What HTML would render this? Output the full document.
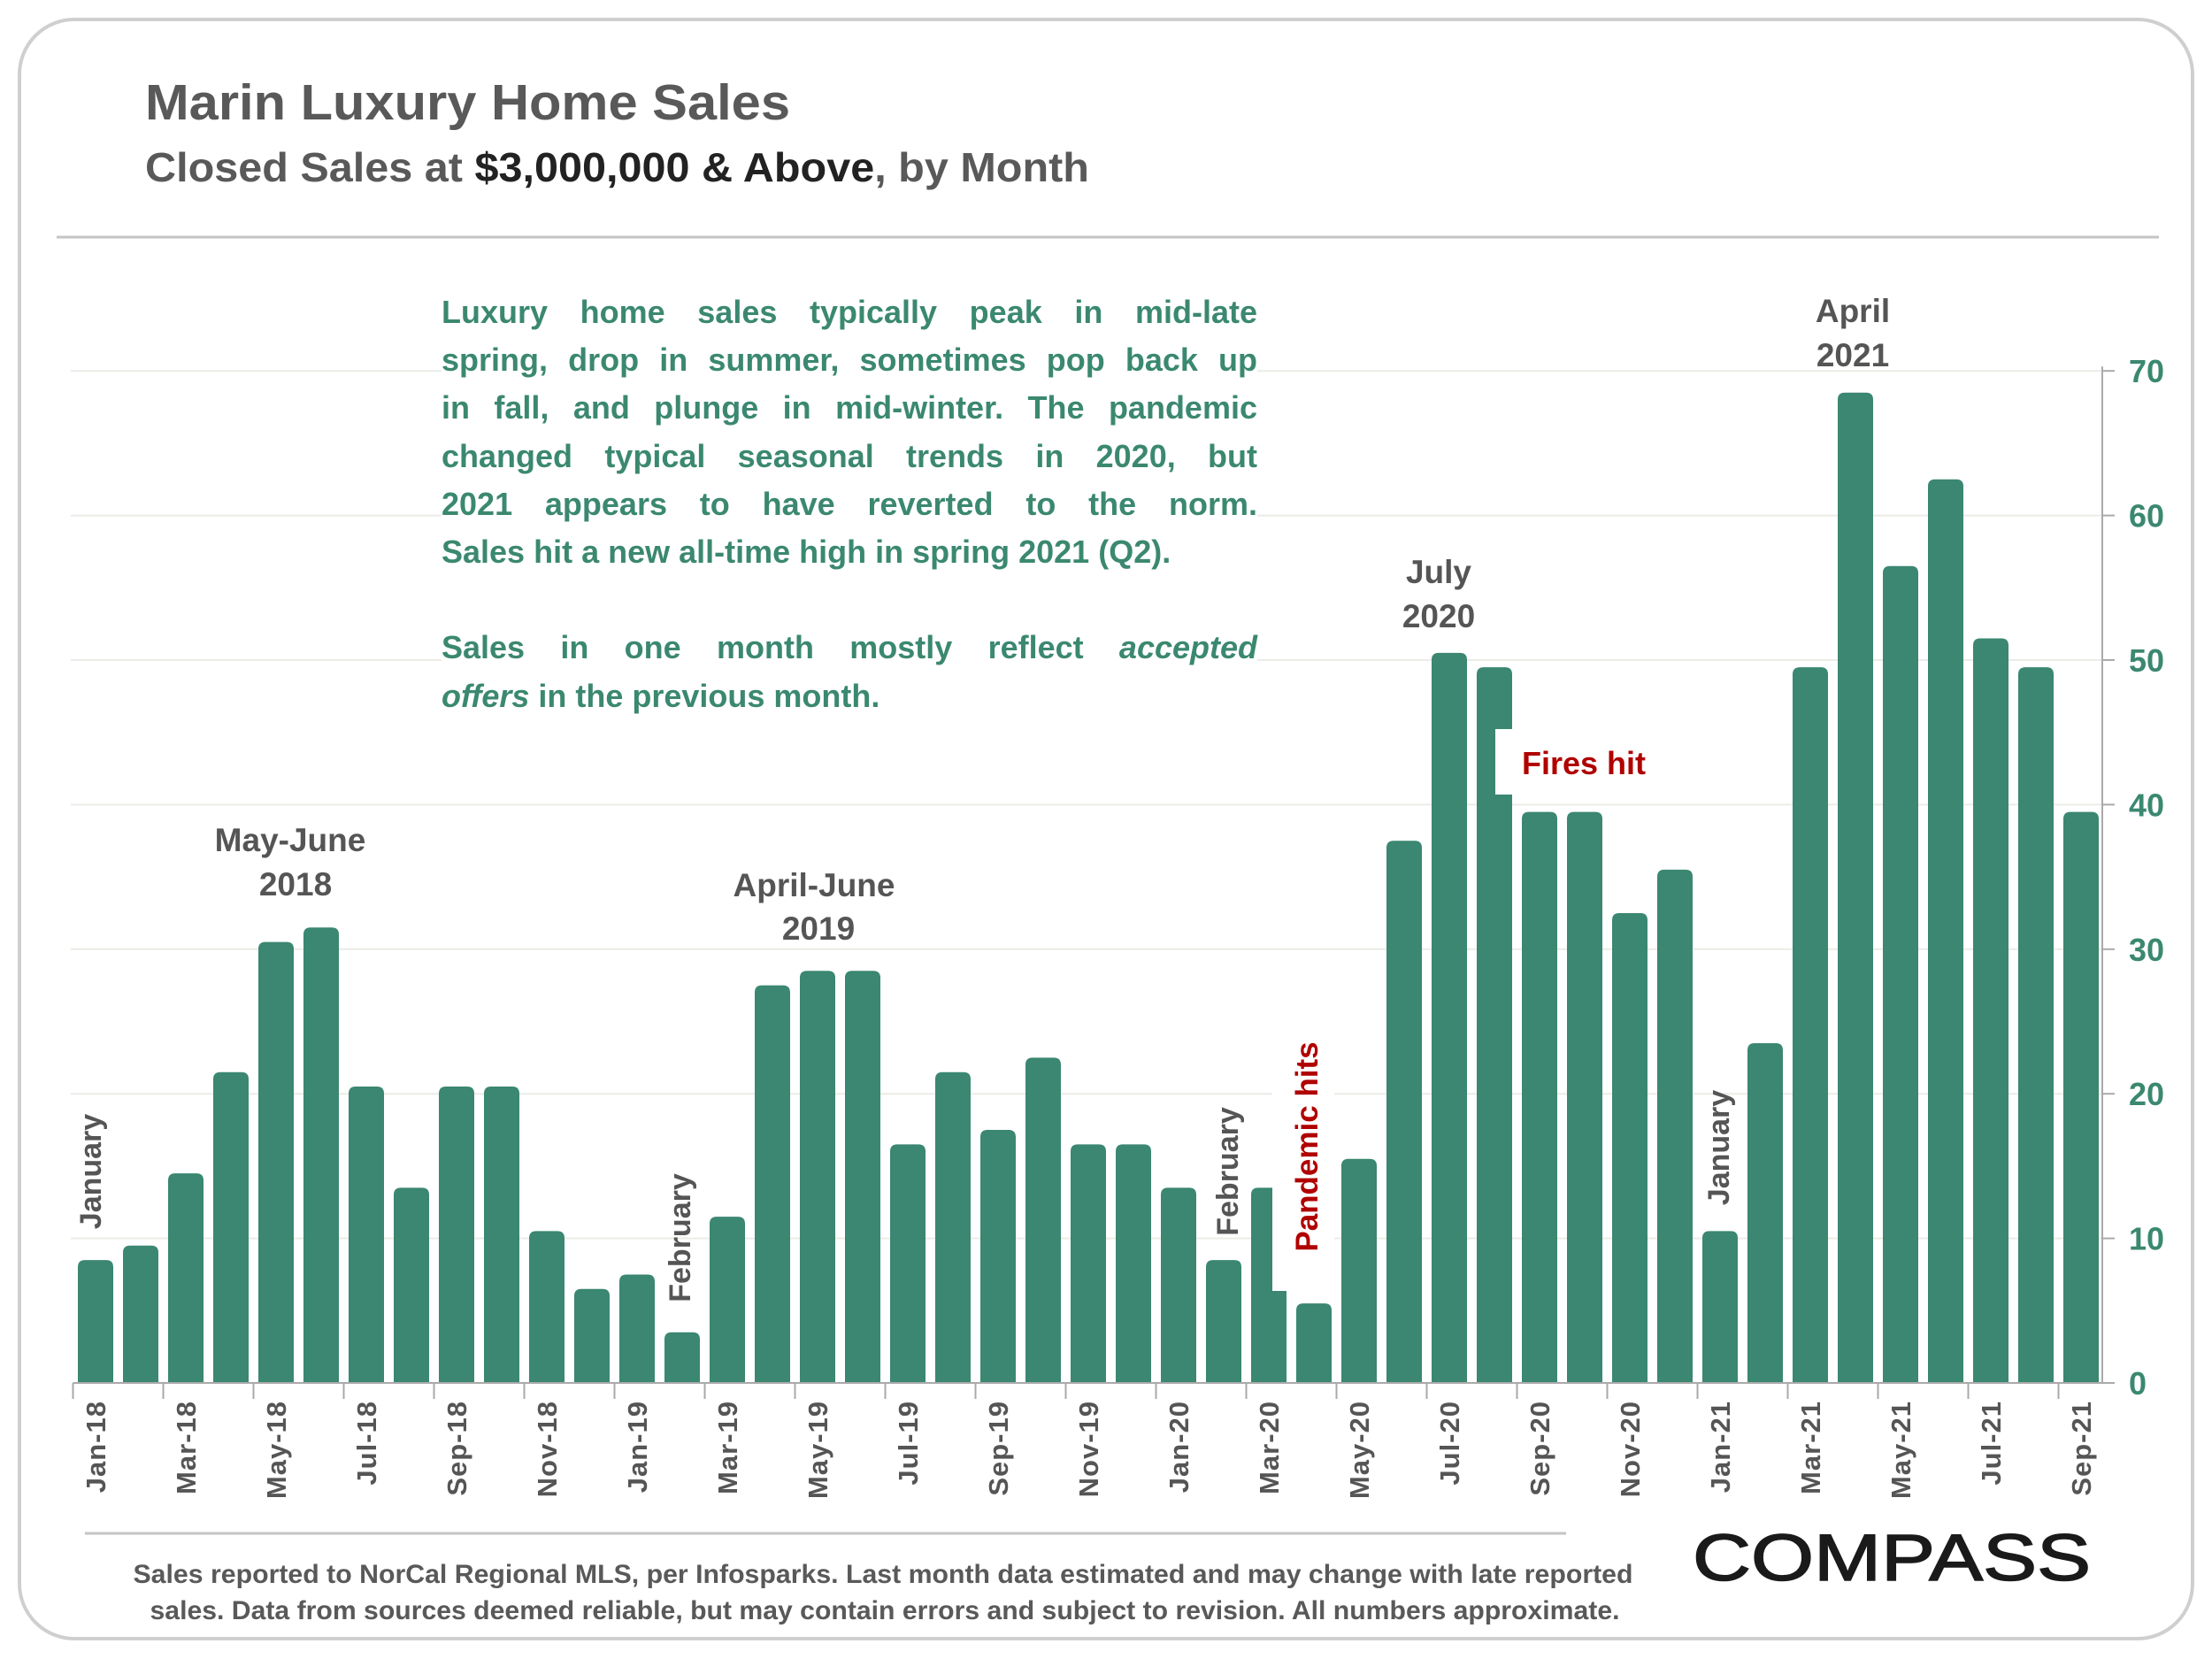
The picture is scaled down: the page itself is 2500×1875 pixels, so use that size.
<!DOCTYPE html>
<html><head><meta charset="utf-8"><style>
html,body{margin:0;padding:0;background:#fff;}
#wrap{position:relative;width:2500px;height:1875px;overflow:hidden;font-family:"Liberation Sans",sans-serif;}
svg{position:absolute;left:0;top:0;}
#note{position:absolute;left:499px;top:326px;width:922px;color:#3b8870;font-weight:bold;font-size:36px;line-height:54.2px;background:#fff;padding:0;}
#note div{text-align:justify;text-align-last:justify;white-space:nowrap;}
#note div.l{text-align-last:left;}
</style></head><body>
<div id="wrap">
<svg id="chart" width="2500" height="1875" viewBox="0 0 2500 1875">
  <rect x="22" y="22" width="2456" height="1830" rx="62" fill="#fff" stroke="#cfcfcf" stroke-width="4"/>
  <text x="164" y="135" font-size="57" font-weight="bold" fill="#595959" textLength="729" lengthAdjust="spacingAndGlyphs">Marin Luxury Home Sales</text>
  <text x="164" y="205" font-size="46" font-weight="bold" fill="#595959" textLength="1067" lengthAdjust="spacingAndGlyphs">Closed Sales at <tspan fill="#222">$3,000,000 &amp; Above</tspan>, by Month</text>
  <line x1="64" y1="268" x2="2440" y2="268" stroke="#c4c4c4" stroke-width="3"/>
  <g id="grid"></g>
  <g id="bars"></g>
  <g id="axes"></g>
  <g id="annos">
    <text x="328" y="962" font-size="37" font-weight="bold" fill="#555" text-anchor="middle">May-June</text>
    <text x="334" y="1012" font-size="37" font-weight="bold" fill="#555" text-anchor="middle">2018</text>
    <text x="920" y="1013" font-size="37" font-weight="bold" fill="#555" text-anchor="middle">April-June</text>
    <text x="925" y="1062" font-size="37" font-weight="bold" fill="#555" text-anchor="middle">2019</text>
    <text x="1626" y="659" font-size="37" font-weight="bold" fill="#555" text-anchor="middle">July</text>
    <text x="1626" y="709" font-size="37" font-weight="bold" fill="#555" text-anchor="middle">2020</text>
    <text x="2094" y="364" font-size="37" font-weight="bold" fill="#555" text-anchor="middle">April</text>
    <text x="2094" y="414" font-size="37" font-weight="bold" fill="#555" text-anchor="middle">2021</text>
    <rect x="1690" y="824" width="175" height="74" fill="#fff"/>
    <text x="1720" y="875" font-size="36" font-weight="bold" fill="#b00000">Fires hit</text>
    <rect x="1438" y="1150" width="70" height="309" fill="#fff"/>
    <text transform="translate(114,1324) rotate(-90)" font-size="34" font-weight="bold" fill="#555" text-anchor="middle">January</text>
    <text transform="translate(780,1399) rotate(-90)" font-size="34" font-weight="bold" fill="#555" text-anchor="middle">February</text>
    <text transform="translate(1399,1324) rotate(-90)" font-size="34" font-weight="bold" fill="#555" text-anchor="middle">February</text>
    <text transform="translate(1489,1296) rotate(-90)" font-size="35" font-weight="bold" fill="#b00000" text-anchor="middle">Pandemic hits</text>
    <text transform="translate(1954,1297) rotate(-90)" font-size="34" font-weight="bold" fill="#555" text-anchor="middle">January</text>
  </g>
  <line x1="96" y1="1733" x2="1770" y2="1733" stroke="#c4c4c4" stroke-width="3"/>
  <text x="998" y="1789" font-size="30" font-weight="bold" fill="#595959" text-anchor="middle" textLength="1695" lengthAdjust="spacingAndGlyphs">Sales reported to NorCal Regional MLS, per Infosparks. Last month data estimated and may change with late reported</text>
  <text x="1000" y="1830" font-size="30" font-weight="bold" fill="#595959" text-anchor="middle" textLength="1661" lengthAdjust="spacingAndGlyphs">sales. Data from sources deemed reliable, but may contain errors and subject to revision. All numbers approximate.</text>
  <text x="1913" y="1786" font-size="74" fill="#1a1a1a" stroke="#1a1a1a" stroke-width="1.5" textLength="450" lengthAdjust="spacingAndGlyphs">COMPASS</text>
</svg>
<div id="note">
  <div>Luxury home sales typically peak in mid-late</div>
  <div>spring, drop in summer, sometimes pop back up</div>
  <div>in fall, and plunge in mid-winter. The pandemic</div>
  <div>changed typical seasonal trends in 2020, but</div>
  <div>2021 appears to have reverted to the norm.</div>
  <div class="l">Sales hit a new all-time high in spring 2021 (Q2).</div>
  <div class="l">&nbsp;</div>
  <div>Sales in one month mostly reflect <i>accepted</i></div>
  <div class="l"><i>offers</i> in the previous month.</div>
</div>
</div>
<script>
const months = ["Jan-18","Feb-18","Mar-18","Apr-18","May-18","Jun-18","Jul-18","Aug-18","Sep-18","Oct-18","Nov-18","Dec-18",
"Jan-19","Feb-19","Mar-19","Apr-19","May-19","Jun-19","Jul-19","Aug-19","Sep-19","Oct-19","Nov-19","Dec-19",
"Jan-20","Feb-20","Mar-20","Apr-20","May-20","Jun-20","Jul-20","Aug-20","Sep-20","Oct-20","Nov-20","Dec-20",
"Jan-21","Feb-21","Mar-21","Apr-21","May-21","Jun-21","Jul-21","Aug-21","Sep-21"];
const sales = [8,9,14,21,30,31,20,13,20,20,10,6,
7,3,11,27,28,28,16,21,17,22,16,16,
13,8,13,5,15,37,50,49,39,39,32,35,
10,23,49,68,56,62,51,49,39];
const yTicks = [0,10,20,30,40,50,60,70];

const NS = "http://www.w3.org/2000/svg";
const X0 = 108, STEP = 51, BW = 40, Y0 = 1563, PER = 16.34, AXR = 2376;
function xScale(i){ return X0 + i*STEP; }
function yScale(v){ return Y0 - v*PER; }
function mk(tag, attrs, parent){
  const e = document.createElementNS(NS, tag);
  for (const k in attrs) e.setAttribute(k, attrs[k]);
  parent.appendChild(e); return e;
}
const grid = document.getElementById('grid');
const bars = document.getElementById('bars');
const axes = document.getElementById('axes');

yTicks.forEach(t => {
  const y = yScale(t);
  if (t > 0) {
    const g = mk('line', {x1:80, y1:y, x2:AXR, y2:y, stroke:'#ecece6', 'stroke-width':2}, grid);
    
    
  }
  const tk = mk('line', {x1:AXR, y1:y, x2:AXR+14, y2:y, stroke:'#aaa', 'stroke-width':2}, axes);
  
  
  const lb = mk('text', {x: AXR+30, y: y+13, 'font-size':36, 'font-weight':'bold', fill:'#3b8870'}, axes);
  lb.textContent = t;
  
  
});
const yax = mk('line', {x1:AXR, y1:yScale(70)-5, x2:AXR, y2:Y0, stroke:'#aaa', 'stroke-width':2}, axes);



sales.forEach((v, i) => {
  const cx = xScale(i), x = cx - BW/2, top = yScale(v + 0.5), r = 8;
  const d = `M${x},${Y0} L${x},${top+r} Q${x},${top} ${x+r},${top} L${x+BW-r},${top} Q${x+BW},${top} ${x+BW},${top+r} L${x+BW},${Y0} Z`;
  const b = mk('path', {d: d, fill:'#3b8771'}, bars);
  
  
});

const base = mk('line', {x1:xScale(0)-STEP/2, y1:Y0, x2:AXR, y2:Y0, stroke:'#aaa', 'stroke-width':2}, axes);


months.forEach((m, i) => {
  if (i % 2 === 0) {
    const tx = xScale(i) - STEP/2;
    const tk = mk('line', {x1:tx, y1:Y0, x2:tx, y2:Y0+18, stroke:'#aaa', 'stroke-width':2}, axes);
    
    
    const cx = xScale(i);
    const lb = mk('text', {transform:`translate(${cx+11},1583) rotate(-90)`, 'font-size':31, 'font-weight':'bold', fill:'#555', 'text-anchor':'end', 'letter-spacing':'1'}, axes);
    lb.textContent = m;
    
    
  }
});
</script>
</body></html>
